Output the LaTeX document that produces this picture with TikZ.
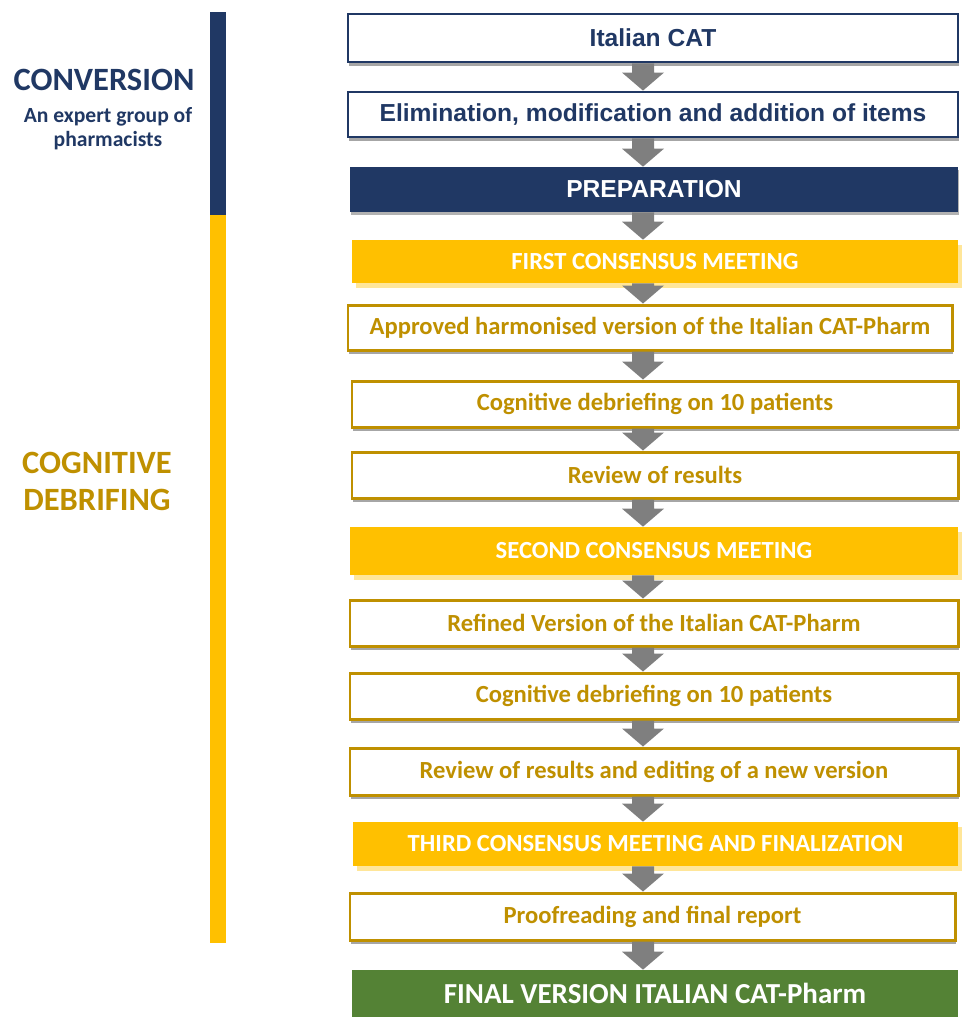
\documentclass[tikz,border=0pt]{standalone}
\usepackage{fontspec}
\setmainfont{Carlito}
\newfontfamily\arialfont{Liberation Sans}
\usetikzlibrary{calc,shadows}

\definecolor{navyc}{HTML}{203864}
\definecolor{goldc}{HTML}{BF9000}
\definecolor{yellowc}{HTML}{FFC000}
\definecolor{greenc}{HTML}{548235}
\definecolor{arrowc}{HTML}{7F7F7F}

% block arrow from box #1 down to box #2
\newcommand\flowarrow[2]{%
	\path (#1.south -| ax) coordinate (t) (#2.north -| ax) coordinate (h);
	\fill[arrowc] ($(t)+(-0.22,0)$) -- ($(t)+(0.22,0)$) -- ($(h)+(0.22,0.36)$)
		-- ($(h)+(0.42,0.36)$) -- (h) -- ($(h)+(-0.42,0.36)$) -- ($(h)+(-0.22,0.36)$) -- cycle;}

\begin{document}
\begin{tikzpicture}[
		box/.style={minimum width=12.16cm, minimum height=0.92cm, inner sep=0pt, font=\bfseries\fontsize{14pt}{16pt}\selectfont},
		navyline/.style={box, draw=navyc, line width=1.6pt, fill=white, text=navyc, font=\arialfont\bfseries\fontsize{14pt}{16pt}\selectfont,
			drop shadow={shadow xshift=0.6pt, shadow yshift=-2.5pt, opacity=0.35, fill=black}},
		navyfill/.style={box, fill=navyc, text=white, font=\arialfont\bfseries\fontsize{14pt}{16pt}\selectfont,
			drop shadow={shadow xshift=0.8pt, shadow yshift=-1.5pt, opacity=0.3, fill=black}},
		goldline/.style={box, draw=goldc, line width=1.7pt, fill=white, text=goldc,
			drop shadow={shadow xshift=0.6pt, shadow yshift=-2.5pt, opacity=0.35, fill=black}},
		yellowfill/.style={box, fill=yellowc, text=white,
			drop shadow={shadow xshift=2.4pt, shadow yshift=-2.8pt, opacity=1, fill=yellowc!40}},
		greenfill/.style={box, fill=greenc, text=white, font=\bfseries\fontsize{16.5pt}{18pt}\selectfont},
		sidetext/.style={font=\bfseries\fontsize{18.5pt}{21pt}\selectfont, align=center}
	]
	\useasboundingbox (0, 0) rectangle (19.4, -20.34);

	% side bars and phase labels
	\fill[navyc] (4.2, -0.24) rectangle (4.52, -4.3);
	\fill[yellowc] (4.2, -4.3) rectangle (4.52, -18.86);
	\node[sidetext, text=navyc] (conv) at (2.08, -1.6) {CONVERSION};
	\node[font=\bfseries\fontsize{12.3pt}{13.5pt}\selectfont, align=center, text=navyc] (group) at (2.16, -2.57) {An expert group of\\pharmacists};
	\node[sidetext, text=goldc] (cogdeb) at (1.94, -9.63) {COGNITIVE\\DEBRIFING};

	% flow boxes
	\coordinate (ax) at (12.86, 0);
	\node[navyline, minimum width=12.2cm, minimum height=0.96cm] (cat) at (13.06, -0.76) {Italian CAT};
	\node[navyline, minimum width=12.2cm, minimum height=0.9cm] (elim) at (13.06, -2.29) {Elimination, modification and addition of items};
	\node[navyfill, minimum height=0.9cm] (prep) at (13.08, -3.79) {PREPARATION};
	\node[yellowfill, minimum width=12.12cm, minimum height=0.86cm] (first) at (13.1, -5.23) {FIRST CONSENSUS MEETING};
	\node[goldline, minimum width=12.08cm, minimum height=0.9cm] (appr) at (13.0, -6.55) {Approved harmonised version of the Italian CAT-Pharm};
	\node[goldline, minimum width=12.12cm] (cog1) at (13.1, -8.08) {Cognitive debriefing on 10 patients};
	\node[goldline, minimum width=12.12cm] (rev1) at (13.1, -9.5) {Review of results};
	\node[yellowfill, minimum height=0.96cm] (second) at (13.08, -11.02) {SECOND CONSENSUS MEETING};
	\node[goldline] (refined) at (13.08, -12.46) {Refined Version of the Italian CAT-Pharm};
	\node[goldline] (cog2) at (13.08, -13.92) {Cognitive debriefing on 10 patients};
	\node[goldline, minimum height=0.94cm] (rev2) at (13.08, -15.43) {Review of results and editing of a new version};
	\node[yellowfill, minimum width=12.1cm, minimum height=0.88cm] (third) at (13.11, -16.88) {THIRD CONSENSUS MEETING AND FINALIZATION};
	\node[goldline, minimum width=12.1cm, minimum height=0.94cm] (proof) at (13.05, -18.33) {Proofreading and final report};
	\node[greenfill, minimum width=12.12cm, minimum height=0.94cm] (final) at (13.1, -19.87) {FINAL VERSION ITALIAN CAT-Pharm};

	% arrows between the steps
	\flowarrow{cat}{elim}
	\flowarrow{elim}{prep}
	\flowarrow{prep}{first}
	\flowarrow{first}{appr}
	\flowarrow{appr}{cog1}
	\flowarrow{cog1}{rev1}
	\flowarrow{rev1}{second}
	\flowarrow{second}{refined}
	\flowarrow{refined}{cog2}
	\flowarrow{cog2}{rev2}
	\flowarrow{rev2}{third}
	\flowarrow{third}{proof}
	\flowarrow{proof}{final}
\end{tikzpicture}
\end{document}
